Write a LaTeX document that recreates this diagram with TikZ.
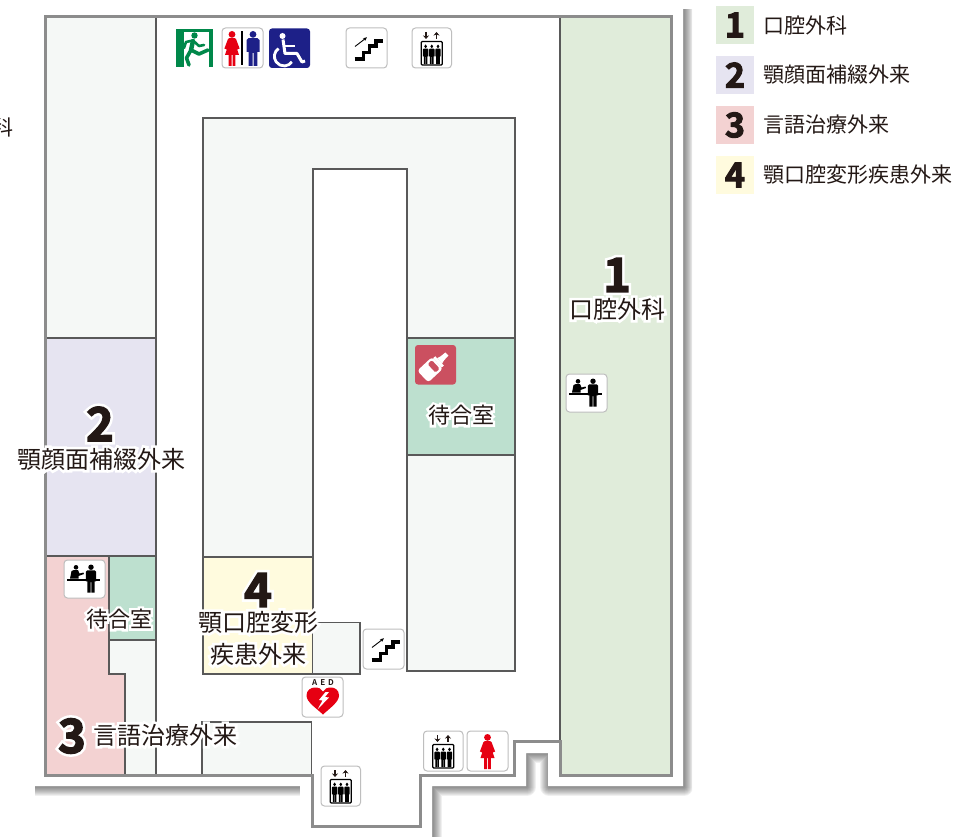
\documentclass[tikz,border=0pt]{standalone}
\usetikzlibrary{arrows.meta}
\usepackage{fontspec}
\setmainfont{Noto Sans CJK JP}
\newfontfamily\jpfont{Noto Sans CJK JP}
\newfontfamily\jphalo[FakeBold=22]{Noto Sans CJK JP}
\newfontfamily\numfont[FakeBold=3]{Noto Sans CJK JP Bold}
\newfontfamily\numhalo[FakeBold=14]{Noto Sans CJK JP Bold}
\newfontfamily\aedfont{Noto Sans CJK JP Bold}
\definecolor{inkc}{HTML}{231815}
\definecolor{wallc}{HTML}{8C8C8C}
\definecolor{linec}{HTML}{595959}
\definecolor{roomc}{HTML}{F5F8F6}
\definecolor{surgc}{HTML}{E0ECDA}
\definecolor{prosc}{HTML}{E6E4F1}
\definecolor{speechc}{HTML}{F3D2D2}
\definecolor{deformc}{HTML}{FFFBDE}
\definecolor{waitc}{HTML}{BDE0CF}
\definecolor{iconline}{HTML}{BEBEBE}
\definecolor{exitc}{HTML}{00884A}
\definecolor{navyc}{HTML}{1D2088}
\definecolor{redc}{HTML}{E60012}
\definecolor{nursec}{HTML}{CB5060}
\newcommand{\jphl}[2]{\fontsize{#1}{#1}\selectfont\rlap{\jphalo\color{white}#2}\jpfont\color{inkc}#2}
\newcommand{\numhl}[2]{\fontsize{#1}{#1}\selectfont\rlap{\numhalo\color{white}#2}\numfont\color{inkc}#2}
\tikzset{
 x=1pt,y=-1pt,
 room/.style={draw=linec,line width=1.3pt,line join=miter},
 legendtxt/.style={inner sep=0pt,anchor=west,font=\fontsize{21}{21}\selectfont\jpfont,text=inkc},
 legendnum/.style={inner sep=0pt,font=\fontsize{34}{34}\selectfont\numfont,text=inkc},
 lbl/.style={inner sep=0pt},
 iconbox/.style={draw=iconline,fill=white,line width=1pt,rounded corners=3.5pt},
 woman/.pic={
  \path[pic actions] (0,3.4) circle (3.4);
  \path[pic actions] (-2.8,7.2) -- (2.8,7.2) -- (4,8) -- (7.6,17.5) -- (5.4,18.4) -- (3.8,14) -- (7,24) -- (3.4,24) -- (3.4,35) -- (.5,35) -- (.5,24) -- (-.5,24) -- (-.5,35) -- (-3.4,35) -- (-3.4,24) -- (-7,24) -- (-3.8,14) -- (-5.4,18.4) -- (-7.6,17.5) -- (-4,8) -- cycle;},
 man/.pic={
  \path[pic actions] (0,3.4) circle (3.4);
  \path[pic actions] (-4.5,7.2) -- (4.5,7.2) -- (6.5,9) -- (6.5,21) -- (4.4,21) -- (4.4,35) -- (.5,35) -- (.5,22) -- (-.5,22) -- (-.5,35) -- (-4.4,35) -- (-4.4,21) -- (-6.5,21) -- (-6.5,9) -- cycle;},
 stairsicon/.pic={
  \draw[iconbox] (0,0) rectangle (41,40);
  \draw[line width=3.8pt,line join=miter] (8.5,31) -- (17.5,31) -- (17.5,24.5) -- (23.5,24.5) -- (23.5,18) -- (30,18) -- (30,13) -- (37,13);
  \draw[line width=.9pt,-{Stealth[length=4pt,width=3.5pt]}] (9,18.5) -- (21,9.3);},
 elevicon/.pic={
  \draw[iconbox] (0,0) rectangle (39.5,40);
  \draw[line width=1.5pt,-{Stealth[length=3.6pt,width=6pt]},draw=inkc] (14,4) -- (14,11);
  \draw[line width=1.5pt,-{Stealth[length=3.6pt,width=6pt]},draw=inkc] (24.5,11) -- (24.5,4);
  \draw[draw=black,line width=1.3pt,rounded corners=1pt] (9.3,13.5) rectangle (30.2,37);
  \pic[xscale=.42,yscale=.56,fill=black] at (13.6,16.5) {man};
  \pic[xscale=.42,yscale=.56,fill=black] at (19.8,16.5) {man};
  \pic[xscale=.42,yscale=.56,fill=black] at (26,16.5) {man};},
 deskicon/.pic={
  \draw[iconbox] (0,0) rectangle (41,38);
  \fill[black] (12,7.3) circle (2.3);
  \fill[black] (6,18.6) -- (7.5,11) -- (10,10) -- (14,10) -- (15.5,13.5) -- (19.5,12.5) -- (20,14) -- (14.5,16) -- (14.5,18.6) -- cycle;
  \pic[scale=.8,fill=black] at (27,4.5) {man};
  \draw[black,line width=1.4pt] (3.3,20) -- (36,20);},
}
\begin{document}
\begin{tikzpicture}
\useasboundingbox (0,0) rectangle (956,837);
\clip (0,0) rectangle (956,837);
% sheet shadow
\def\sheetpath{(33,6) -- (683,6) -- (683,786) -- (548,786) -- (548,753) -- (526,753) -- (526,786) -- (432,786) -- (432,860) -- (300,860) -- (300,786) -- (33,786) -- cycle}
\def\shadowpath{(33,6) -- (683,6) -- (683,786) -- (548,786) -- (548,753) -- (526,753) -- (526,786) -- (432,786) -- (432,860) -- (308,860) -- (308,786) -- (33,786) -- cycle}
\begin{scope}
 \clip (35,10) rectangle (692,837);
 \foreach \w in {18,16,14,12,10,8,6,4,2}{
  \draw[black,opacity=.06,line width=\w pt,line join=round,shift={(1,1)}] \shadowpath;
 }
\end{scope}
\fill[white] \sheetpath;
% stray legend character cut by the page edge
\node[lbl] (stray) at (2.5,127) {\fontsize{21}{21}\selectfont\jpfont\color{inkc}科};
% rooms
\fill[white] (45,17) -- (671,17) -- (671,775) -- (560,775) -- (560,741) -- (514,741) -- (514,775) -- (420,775) -- (420,826) -- (312,826) -- (312,775) -- (45,775) -- cycle;
\draw[room,fill=surgc] (560,17) rectangle (671,775);
\draw[room,fill=roomc] (45,17) rectangle (156,338);
\draw[room,fill=prosc] (45,338) rectangle (156,556);
\draw[room,fill=speechc] (45,556) -- (109,556) -- (109,674) -- (125,674) -- (125,775) -- (45,775) -- cycle;
\draw[room,fill=waitc] (109,556) rectangle (156,640);
\draw[room,fill=roomc] (109,640) -- (156,640) -- (156,775) -- (125,775) -- (125,674) -- (109,674) -- cycle;
\draw[room,fill=roomc] (202,775) -- (202,722) -- (311.5,722) -- (311.5,775);
\draw[room,fill=roomc] (203,557) -- (203,118) -- (515,118) -- (515,671) -- (407,671) -- (407,169) -- (313,169) -- (313,557) -- cycle;
\draw[room,fill=waitc] (407,338) rectangle (515,455);
\draw[room,fill=deformc] (203,557) rectangle (313,674);
\draw[room,fill=roomc] (313,622.5) -- (360,622.5) -- (360,674) -- (313,674);
% outer wall
\draw[wallc,line width=3pt,line join=miter] (45,17) -- (671,17) -- (671,775) -- (560,775) -- (560,741.5) -- (514,741.5) -- (514,775) -- (420,775) -- (420,826.5) -- (312,826.5) -- (312,775) -- (45,775) -- cycle;
% exit
\begin{scope}[shift={(176,29)}]
 \fill[exitc] (0,0) rectangle (37,38);
 \fill[white] (8,3) rectangle (33,38);
 \fill[exitc] (18.5,6.5) circle (3.2);
 \draw[exitc,line width=4.4pt,line join=round,line cap=round] (17,12) -- (15,21);
 \draw[exitc,line width=3.6pt,line join=round,line cap=round] (15,21) -- (23,25) -- (32,21);
 \draw[exitc,line width=3.6pt,line join=round,line cap=round] (15,21) -- (10.5,29) -- (13,36);
 \draw[exitc,line width=2.6pt,line join=round,line cap=round] (8,19) -- (10,13) -- (17,11.5) -- (23,17) -- (28,16);
\end{scope}
% toilets
\begin{scope}[shift={(222,28)}]
 \draw[iconbox] (0,0) rectangle (41,40);
 \pic[fill=redc] at (10,3) {woman};
 \draw[black,line width=1.4pt] (20,3.5) -- (20,37);
 \pic[fill=navyc] at (31,3) {man};
\end{scope}
% wheelchair
\begin{scope}[shift={(269,28.5)}]
 \fill[navyc,rounded corners=3pt] (0,0) rectangle (41,39.5);
 \fill[white] (13.5,7.5) circle (3);
 \draw[white,line width=3pt,line join=round] (14,11) -- (16,25) -- (28,25) -- (33,33.5) -- (36,32.5);
 \draw[white,line width=2.6pt] (15,17.5) -- (26,17.5);
 \draw[white,line width=2.8pt] (9.5,20) arc[start angle=235,end angle=35,radius=9.6];
\end{scope}
% stairs, lifts
\pic[] at (346,28) {stairsicon};
\pic[] at (412,28) {elevicon};
\pic[] at (363,629) {stairsicon};
\pic[] at (423.5,731) {elevicon};
\pic[] at (321,766) {elevicon};
% reception
\pic[] at (566,374) {deskicon};
\pic[] at (64,560) {deskicon};
% woman toilet
\begin{scope}[shift={(467,731)}]
 \draw[iconbox] (0,0) rectangle (41,40);
 \pic[fill=redc] at (20.5,3) {woman};
\end{scope}
% nursing room
\begin{scope}[shift={(415,345)}]
 \fill[nursec,rounded corners=3pt] (0,0) rectangle (41,39.5);
 \begin{scope}[shift={(18,22)},rotate=43]
  \fill[white,rounded corners=3pt] (-14,-8) rectangle (6,8);
  \fill[nursec,rounded corners=1.5pt] (-2,-5.8) rectangle (3.8,5.8);
  \fill[white] (6,-6.3) rectangle (9,6.3);
  \fill[white] (9,-3.6) -- (13,-2.6) -- (19,-2.2) -- (19,2.2) -- (13,2.6) -- (9,3.6) -- cycle;
 \end{scope}
\end{scope}
% AED
\begin{scope}[shift={(302,677)}]
 \draw[iconbox] (0,0) rectangle (41,40);
 \node[lbl] (aedtext) at (21,5.5) {\fontsize{8}{8}\selectfont\aedfont\color{inkc}A\kern3pt E\kern3pt D};
 \fill[redc] (21,37.5) .. controls (14,31) and (4.5,25) .. (4.5,18.5) .. controls (4.5,13) and (9,10.5) .. (13,10.5) .. controls (16.5,10.5) and (19.5,11.5) .. (21,14.5) .. controls (22.5,11.5) and (25.5,10.5) .. (29,10.5) .. controls (33,10.5) and (37,13) .. (37,18.5) .. controls (37,25) and (28,31) .. (21,37.5) -- cycle;
 \fill[white] (23.5,15) -- (17,23) -- (20.5,23.5) -- (15.5,32.5) -- (27,20.5) -- (23,20) -- (27,15) -- cycle;
\end{scope}
% labels on plan
\node[lbl] (n1) at (617,275) {\numhl{47}{1}};
\node[lbl] (t1) at (617,309) {\jphl{24}{口腔外科}};
\node[lbl] (n2) at (100,424) {\numhl{47}{2}};
\node[lbl] (t2) at (101.5,459) {\jphl{24}{顎顔面補綴外来}};
\node[lbl] (n3) at (72,736) {\numhl{47}{3}};
\node[lbl,anchor=west] (t3) at (93,735) {\jphl{24}{言語治療外来}};
\node[lbl] (n4) at (258,590) {\numhl{47}{4}};
\node[lbl] (t4a) at (258,622) {\jphl{24}{顎口腔変形}};
\node[lbl] (t4b) at (258,654) {\jphl{24}{疾患外来}};
\node[lbl] (w1) at (461,415) {\jphl{22}{待合室}};
\node[lbl] (w2) at (119,619) {\jphl{22}{待合室}};
% legend
\fill[surgc] (716,6) rectangle (754,44);
\fill[prosc] (716,56) rectangle (754,94);
\fill[speechc] (716,106) rectangle (754,144);
\fill[deformc] (716,156) rectangle (754,194);
\node[legendnum] (l1) at (735,25) {1};
\node[legendnum] (l2) at (735,75) {2};
\node[legendnum] (l3) at (735,125) {3};
\node[legendnum] (l4) at (735,175) {4};
\node[legendtxt] (lt1) at (763,26) {口腔外科};
\node[legendtxt] (lt2) at (763,75) {顎顔面補綴外来};
\node[legendtxt] (lt3) at (763,125) {言語治療外来};
\node[legendtxt] (lt4) at (763,175) {顎口腔変形疾患外来};
\end{tikzpicture}
\end{document}
